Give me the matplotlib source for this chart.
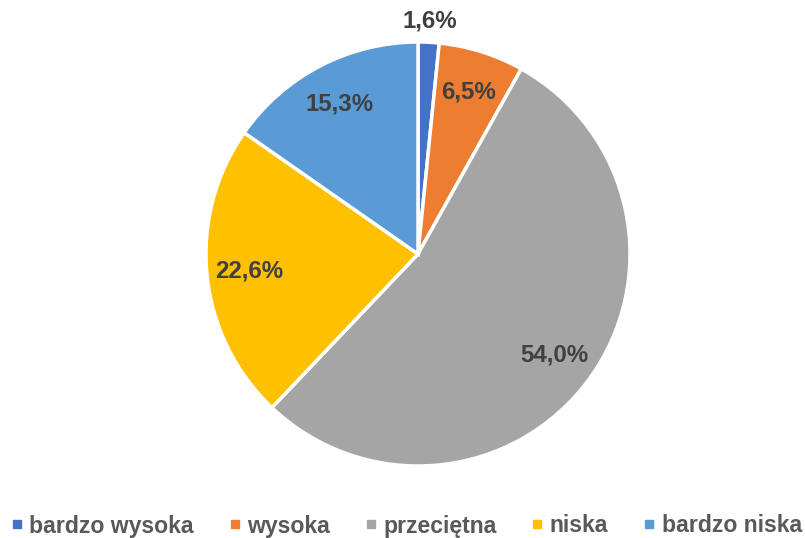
import matplotlib
matplotlib.use("Agg")
import matplotlib.pyplot as plt
from matplotlib.lines import Line2D
import numpy as np

categories = ["bardzo wysoka", "wysoka", "przeciętna", "niska", "bardzo niska"]
values = [1.6, 6.5, 54.0, 22.6, 15.3]
labels = ["1,6%", "6,5%", "54,0%", "22,6%", "15,3%"]
colors = ["#4472C4", "#ED7D31", "#A5A5A5", "#FFC000", "#5B9BD5"]

plt.rcParams['font.family'] = ['Liberation Sans', 'DejaVu Sans']

fig = plt.figure(figsize=(8.05, 5.38), dpi=100)
W, H = 805, 538
cx, cy, r = 418, 254, 212
ax = fig.add_axes([(cx - r) / W, 1 - (cy + r) / H, 2 * r / W, 2 * r / H])
wedges, _ = ax.pie(values, colors=colors, startangle=90, counterclock=False,
                   wedgeprops=dict(edgecolor="white", linewidth=2.5), radius=1)
ax.set_xlim(-1, 1)
ax.set_ylim(-1, 1)
ax.set_aspect('equal')
ax.axis('off')

total = sum(values)
cum = 0
for i, (v, lab) in enumerate(zip(values, labels)):
    mid = 90 - (cum + v / 2) / total * 360
    cum += v
    d = 1.10 if i == 0 else 0.80
    x = d * np.cos(np.radians(mid))
    y = d * np.sin(np.radians(mid))
    ax.text(x, y, lab, ha="center", va="center", fontsize=17.3, fontweight="bold",
            color="#404040", clip_on=False)

handles = [Line2D([], [], marker='s', linestyle='none', markersize=5.5,
                  markerfacecolor=c, markeredgecolor=c) for c in colors]
fig.legend(handles, categories, loc="center", bbox_to_anchor=(407 / W, 1 - 526 / H),
           ncol=5, frameon=False, handlelength=0.4, handletextpad=0.35,
           columnspacing=1.56, borderpad=0, borderaxespad=0,
           prop=dict(family='Liberation Sans', weight='bold', size=16.6),
           labelcolor="#595959")

fig.savefig("out.png", dpi=100)
